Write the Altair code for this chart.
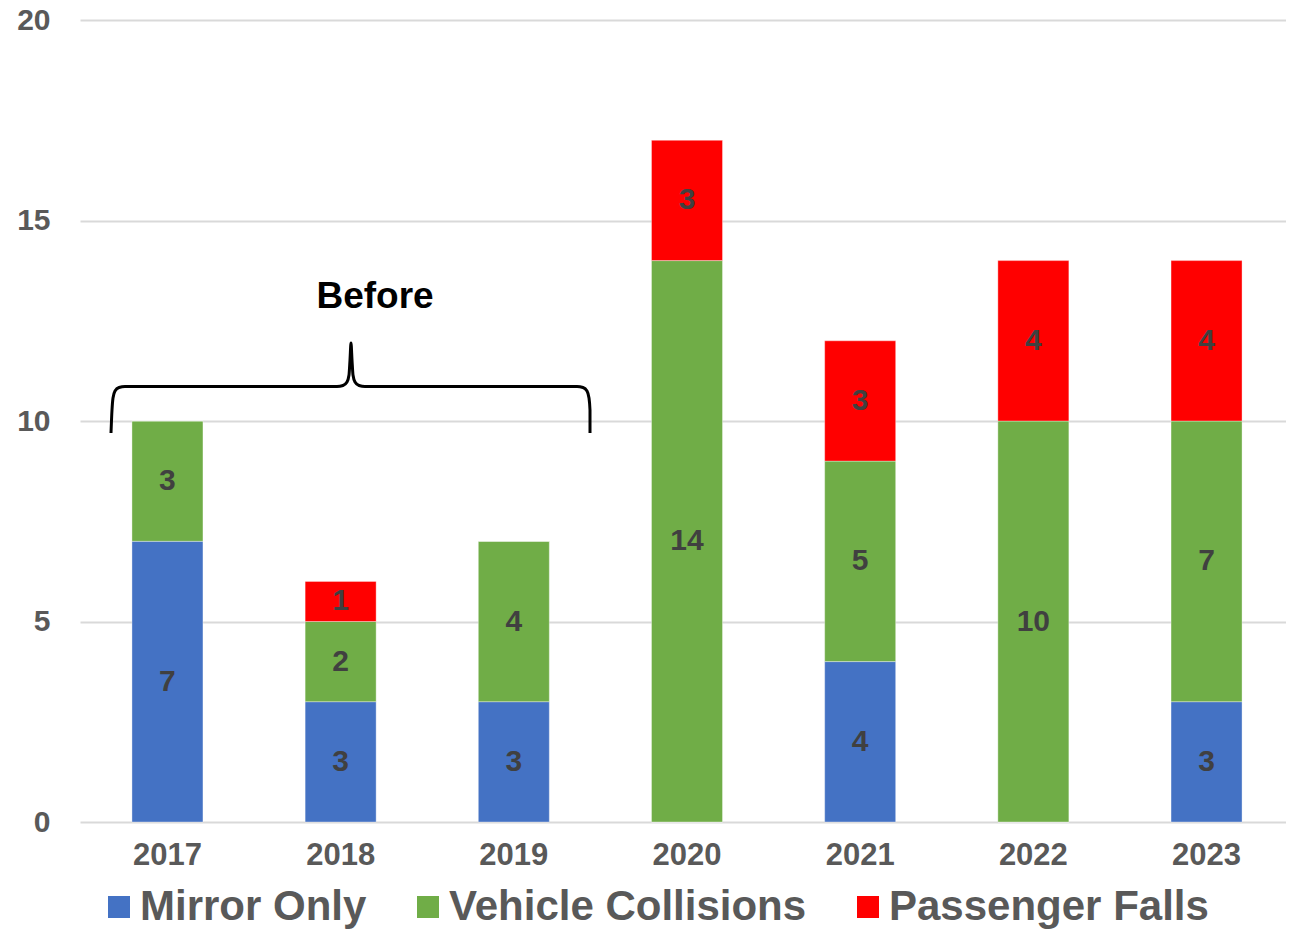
import altair as alt
import pandas as pd

years = ["2017", "2018", "2019", "2020", "2021", "2022", "2023"]
mirror_only = [7, 3, 3, 0, 4, 0, 3]
vehicle_collisions = [3, 2, 4, 14, 5, 10, 7]
passenger_falls = [0, 1, 0, 3, 3, 4, 4]
series_names = ["Mirror Only", "Vehicle Collisions", "Passenger Falls"]
series_colors = ["#4472C4", "#70AD47", "#FF0000"]
y_ticks = [0, 5, 10, 15, 20]

rows = []
for i, yr in enumerate(years):
    for k, (name, vals) in enumerate(zip(series_names, [mirror_only, vehicle_collisions, passenger_falls])):
        rows.append({"year": yr, "series": name, "value": vals[i], "order": k})
df = pd.DataFrame(rows)

LEFT, TOP = 80, 20
# brace annotation path (page pixel positions, shifted into the plot area)
brace_px = [(111, 433), (112, 410), (113, 398), (115, 391), (119, 387.5), (125, 386.5),
            (337, 386.5), (343, 385.5), (347, 382), (349, 375), (350, 360), (351, 343),
            (352, 360), (353, 375), (355, 382), (359, 385.5), (365, 386.5),
            (577, 386.5), (583, 387.5), (587, 391), (589, 398), (590, 410), (590, 433)]
brace_df = pd.DataFrame({"i": list(range(len(brace_px))),
                         "bx": [p[0] - LEFT for p in brace_px],
                         "by": [p[1] - TOP for p in brace_px]})

FONT = "Liberation Sans"
GRAY = "#595959"

x_enc = alt.X("year:N", sort=years, title=None,
              scale=alt.Scale(paddingInner=0.59, paddingOuter=0.3, range=[0, 1214]),
              axis=alt.Axis(labelAngle=0, labelFont=FONT, labelFontWeight="bold",
                            labelFontSize=31, labelColor=GRAY, labelPadding=18,
                            domain=False, ticks=False, grid=False))
y_scale = alt.Scale(domain=[0, 20], nice=False)

bars = alt.Chart(df).mark_bar(stroke="white", strokeWidth=0.6, strokeOpacity=0.6).encode(
    x=x_enc,
    y=alt.Y("value:Q", stack="zero", title=None, scale=y_scale,
            axis=alt.Axis(values=y_ticks, labelFont=FONT, labelFontWeight="bold",
                          labelFontSize=30, labelColor=GRAY, labelPadding=30,
                          domain=False, ticks=False, grid=True, gridColor="#D9D9D9",
                          gridWidth=2)),
    color=alt.Color("series:N", scale=alt.Scale(domain=series_names, range=series_colors),
                    legend=alt.Legend(title=None, orient="none", legendX=18, legendY=866,
                                      direction="horizontal", columns=3,
                                      symbolType="square", symbolSize=484,
                                      symbolStrokeWidth=0, labelFont=FONT,
                                      labelFontWeight="bold", labelFontSize=42,
                                      labelColor=GRAY, labelOffset=0,
                                      columnPadding=40, labelLimit=600)),
    order=alt.Order("order:Q"),
)

labels = alt.Chart(df).transform_stack(
    stack="value", groupby=["year"], as_=["y0", "y1"], sort=[alt.SortField("order")]
).transform_filter("datum.value > 0").transform_calculate(
    mid="(datum.y0 + datum.y1) / 2"
).mark_text(font=FONT, fontWeight="bold", fontSize=30, color="#404040", baseline="middle").encode(
    x=alt.X("year:N", sort=years),
    y=alt.Y("mid:Q", scale=y_scale),
    text=alt.Text("value:Q"),
)

brace = alt.Chart(brace_df).mark_line(color="black", strokeWidth=3, interpolate="monotone").encode(
    x=alt.X("bx:Q", scale=None, axis=None),
    y=alt.Y("by:Q", scale=None, axis=None),
    order=alt.Order("i:Q"),
)

before = alt.Chart(pd.DataFrame({"t": ["Before"]})).mark_text(
    font=FONT, fontWeight="bold", fontSize=37, color="black", baseline="middle", align="center"
).encode(x=alt.value(375 - LEFT), y=alt.value(297 - TOP), text="t:N")

chart = alt.layer(bars, labels, brace, before).properties(
    width=1206, height=802,
    padding={"left": LEFT - 8, "top": TOP - 8, "right": 0, "bottom": 113},
    autosize=alt.AutoSizeParams(type="none"),
).configure_view(stroke=None)

chart.save("out.html", embed_options={"renderer": "svg", "actions": False})
